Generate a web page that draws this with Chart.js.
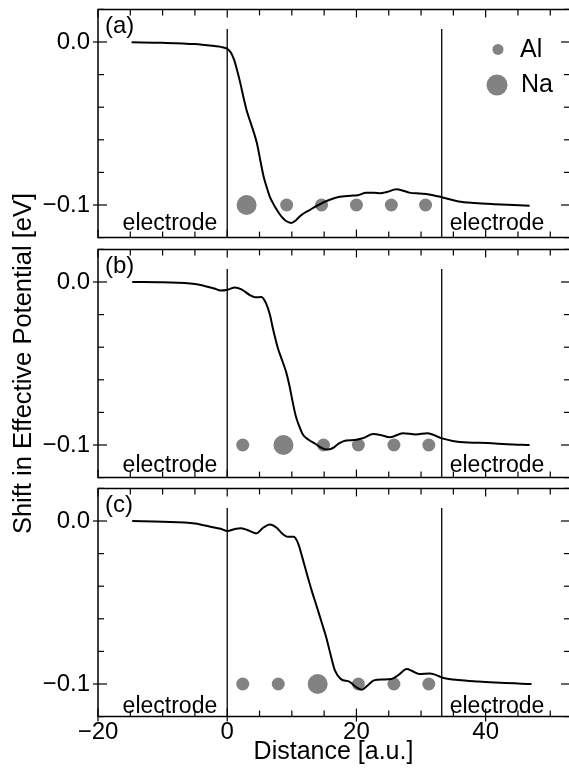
<!DOCTYPE html>
<html>
<head>
<meta charset="utf-8">
<script src="https://cdn.jsdelivr.net/npm/chart.js@4.4.0/dist/chart.umd.min.js"></script>
<style>
html,body{margin:0;padding:0;background:#fff;}
#wrap{position:relative;width:569px;height:771px;overflow:hidden;background:#fff;}
#wrap canvas{position:absolute;left:0;top:0;}
</style>
</head>
<body>
<div id="wrap">
<canvas id="panelA" width="569" height="771"></canvas>
<canvas id="panelB" width="569" height="771"></canvas>
<canvas id="panelC" width="569" height="771"></canvas>
</div>
<script>
// ---------------- data ----------------
const distA = [-14.8,-10,-5,-2,-1,0.06,0.56,1.07,1.57,2.07,2.58,3.08,3.58,4.08,4.59,5.09,5.6,6.1,6.6,7.1,7.6,8.1,8.6,9.1,9.9,10.6,11.1,11.7,12.6,13.2,14.1,15.1,16.1,17.1,18.1,19.1,20.2,21.5,22.7,23.7,24.7,26.2,27.2,28.2,29.7,31.2,33.2,35.8,38.3,41.3,44.3,46.8];
const potA  = [-0.0002,-0.0005,-0.0013,-0.0025,-0.003,-0.0043,-0.0065,-0.011,-0.018,-0.026,-0.035,-0.043,-0.049,-0.055,-0.062,-0.072,-0.082,-0.089,-0.095,-0.099,-0.1025,-0.1055,-0.108,-0.1098,-0.111,-0.1095,-0.1075,-0.1055,-0.1035,-0.102,-0.1,-0.098,-0.0965,-0.0952,-0.0947,-0.0943,-0.094,-0.0925,-0.0925,-0.0928,-0.092,-0.0904,-0.0912,-0.0924,-0.093,-0.0935,-0.0952,-0.0978,-0.0988,-0.0995,-0.1,-0.1004];

const distB = [-14.7,-10,-5,-2,-1,0.06,1.2,2.2,3.5,4.3,5.3,6.0,6.6,7.1,7.8,8.4,9.1,9.6,10.1,10.6,11.1,11.7,12.6,13.7,14.6,15.4,16.3,17.3,18.4,19.7,21.0,22.6,23.7,25.2,27.2,29.2,31.0,33.1,34.9,37.3,40.3,43.3,46.8];
const potB  = [0,-0.0002,-0.0012,-0.004,-0.0052,-0.0047,-0.0033,-0.0045,-0.008,-0.0094,-0.0092,-0.013,-0.020,-0.029,-0.040,-0.047,-0.055,-0.063,-0.073,-0.082,-0.088,-0.0935,-0.0968,-0.0994,-0.1018,-0.1028,-0.102,-0.099,-0.0972,-0.097,-0.0958,-0.0933,-0.0938,-0.0952,-0.0928,-0.0935,-0.0928,-0.0958,-0.0975,-0.0985,-0.0988,-0.0995,-0.1];

const distC = [-14.7,-10,-5,-2,-1,0.06,1.1,2.1,3.1,4.5,5.6,6.6,7.6,8.6,9.3,10.3,11.0,11.6,12.3,13.1,13.9,14.6,15.3,16.0,16.7,17.6,18.9,20.0,20.8,21.7,22.7,24.0,25.4,26.4,27.8,28.7,29.7,31.4,33.5,35.8,38.8,42.3,47.1];
const potC  = [0,-0.0004,-0.0015,-0.004,-0.0048,-0.0062,-0.005,-0.0044,-0.0055,-0.0076,-0.004,-0.0022,-0.004,-0.008,-0.0096,-0.0097,-0.014,-0.022,-0.032,-0.043,-0.053,-0.062,-0.071,-0.082,-0.092,-0.097,-0.0986,-0.102,-0.1035,-0.101,-0.0978,-0.0972,-0.097,-0.0948,-0.0908,-0.0922,-0.0938,-0.0935,-0.0963,-0.0976,-0.0985,-0.0993,-0.1];

const atomPosA  = [3.0, 9.2, 14.6, 20.0, 25.4, 30.7];
const atomKindA = ['Na','Al','Al','Al','Al','Al'];
const atomPosB  = [2.4, 8.7, 14.9, 20.3, 25.8, 31.2];
const atomKindB = ['Al','Na','Al','Al','Al','Al'];
const atomPosC  = [2.4, 7.9, 14.0, 20.3, 25.8, 31.2];
const atomKindC = ['Al','Al','Na','Al','Al','Al'];
const atomRow = -0.1;

const electrodeEdges = [0, 33.2];
const electrodeTop = 0.008;
const xTickLabels = [-20, 0, 20, 40];
const yTickLabels = [0, -0.1];
const panelLabels = ['(a)', '(b)', '(c)'];
const xTitle = 'Distance [a.u.]';
const yTitle = 'Shift in Effective Potential [eV]';
const xMin = -20, xMax = 52.9, yMin = -0.12, yMax = 0.02;

// ---------------- layout / style ----------------
const FONT = '"Liberation Sans", Arial, Helvetica, sans-serif';
const PANEL_TOP = [9.4, 249.4, 488.4];
const PANEL_H = 228.2;
const ATOM_COLOR = '#828282';

function fmtNum(v){ return (v < 0 ? '\u2212' : '') + Math.abs(v); }
function near(arr, v, eps){ return arr.some(a => Math.abs(a - v) < eps); }

function decoPlugin(idx, isBottom, electrodeDrop){
  return {
    id: 'deco' + idx,
    afterDatasetsDraw(chart){
      const ctx = chart.ctx, a = chart.chartArea, X = chart.scales.x, Y = chart.scales.y;
      const seg = (x1,y1,x2,y2) => { ctx.beginPath(); ctx.moveTo(x1,y1); ctx.lineTo(x2,y2); ctx.stroke(); };
      ctx.save();
      ctx.strokeStyle = '#000';
      // frame
      ctx.lineWidth = 1.5;
      ctx.beginPath();
      ctx.moveTo(a.right + 2, a.top); ctx.lineTo(a.left, a.top);
      ctx.lineTo(a.left, a.bottom); ctx.lineTo(a.right + 2, a.bottom);
      ctx.stroke();
      // ticks
      ctx.lineWidth = 1.2;
      X.ticks.forEach(t => {
        const px = X.getPixelForValue(t.value);
        const maj = near(xTickLabels, t.value, 1e-6);
        const len = maj ? 8 : 6;
        seg(px, a.top, px, a.top + len);
        if (isBottom && maj) seg(px, a.bottom + 5, px, a.bottom - len);
        else seg(px, a.bottom, px, a.bottom - len);
      });
      Y.ticks.forEach(t => {
        const py = Y.getPixelForValue(t.value);
        const maj = near(yTickLabels, t.value, 1e-9);
        seg(a.left - (maj ? 5 : 0), py, a.left + (maj ? 9 : 6), py);
        seg(a.right, py, a.right - (maj ? 8 : 5), py);
      });
      // texts
      ctx.fillStyle = '#000';
      ctx.font = '24px ' + FONT;
      ctx.textAlign = 'left'; ctx.textBaseline = 'middle';
      ctx.fillText(panelLabels[idx], a.left + 7, a.top + 17);
      ctx.font = '23px ' + FONT;
      ctx.textBaseline = 'alphabetic';
      ctx.textAlign = 'right';
      ctx.fillText('electrode', X.getPixelForValue(electrodeEdges[0]) - 10, a.bottom - electrodeDrop);
      ctx.textAlign = 'left';
      ctx.fillText('electrode', X.getPixelForValue(electrodeEdges[1]) + 8, a.bottom - electrodeDrop);
      if (idx === 0) {
        // legend
        ctx.fillStyle = ATOM_COLOR;
        ctx.beginPath(); ctx.arc(a.right - 71, a.top + 40, 5.5, 0, Math.PI*2); ctx.fill();
        ctx.beginPath(); ctx.arc(a.right - 72, a.top + 75.6, 10.5, 0, Math.PI*2); ctx.fill();
        ctx.fillStyle = '#000';
        ctx.font = '25px ' + FONT;
        ctx.textBaseline = 'middle';
        ctx.fillText('Al', a.right - 49, a.top + 41);
        ctx.fillText('Na', a.right - 48, a.top + 76);
      }
      ctx.restore();
    }
  };
}

function buildPanel(canvasId, idx, dist, pot, atomPos, atomKind, electrodeDrop){
  const isBottom = idx === 2;
  const top = PANEL_TOP[idx];
  const bottom = top + PANEL_H;
  const xAxisH = isBottom ? 771 - bottom : 0;
  const datasets = [];
  electrodeEdges.forEach(e => datasets.push({
    data: [{x: e, y: electrodeTop}, {x: e, y: yMin}],
    showLine: true, borderColor: '#000', borderWidth: 1.3, pointRadius: 0, order: 3
  }));
  datasets.push({
    data: atomPos.map(p => ({x: p, y: atomRow})),
    showLine: false,
    pointRadius: atomKind.map(k => k === 'Na' ? 10 : 6.5),
    pointBackgroundColor: ATOM_COLOR, pointBorderColor: ATOM_COLOR, pointBorderWidth: 0,
    order: 2
  });
  datasets.push({
    data: dist.map((d, i) => ({x: d, y: pot[i]})),
    showLine: true, borderColor: '#000', borderWidth: 2, pointRadius: 0,
    cubicInterpolationMode: 'monotone', order: 1
  });
  const titleOnY = idx === 1;
  return new Chart(document.getElementById(canvasId), {
    type: 'scatter',
    data: { datasets },
    options: {
      responsive: false, animation: false, events: [],
      layout: { autoPadding: false, padding: { top: top, bottom: isBottom ? 0 : 771 - bottom, left: 0, right: 0 } },
      plugins: { legend: { display: false }, tooltip: { enabled: false } },
      scales: {
        x: {
          type: 'linear', min: xMin, max: xMax,
          afterFit(s){ s.height = xAxisH; s.paddingLeft = 0; s.paddingRight = 0; },
          grid: { display: false, drawTicks: false }, border: { display: false },
          ticks: {
            display: isBottom, stepSize: 5, includeBounds: false, autoSkip: false, maxRotation: 0,
            padding: 1, color: '#000', font: { family: FONT, size: 24 },
            callback: v => near(xTickLabels, v, 1e-6) ? fmtNum(Math.round(v)) : ''
          },
          title: { display: isBottom, text: xTitle, color: '#000', font: { family: FONT, size: 25 }, padding: { top: 0, bottom: 4 } }
        },
        y: {
          type: 'linear', min: yMin, max: yMax,
          afterFit(s){ s.width = 98; s.paddingTop = 0; s.paddingBottom = 0; },
          grid: { display: false, drawTicks: false }, border: { display: false },
          ticks: {
            stepSize: 0.02, includeBounds: false, autoSkip: false, padding: 8,
            color: '#000', font: { family: FONT, size: 24 },
            callback: v => Math.abs(v) < 1e-9 ? '0.0' : (Math.abs(v + 0.1) < 1e-9 ? '\u22120.1' : '')
          },
          title: { display: titleOnY, text: yTitle, color: '#000', font: { family: FONT, size: 25.5 }, padding: { top: 9, bottom: 0 } }
        }
      }
    },
    plugins: [decoPlugin(idx, isBottom, electrodeDrop)]
  });
}

buildPanel('panelA', 0, distA, potA, atomPosA, atomKindA, 8);
buildPanel('panelB', 1, distB, potB, atomPosB, atomKindB, 6);
buildPanel('panelC', 2, distC, potC, atomPosC, atomKindC, 4);
</script>
</body>
</html>
